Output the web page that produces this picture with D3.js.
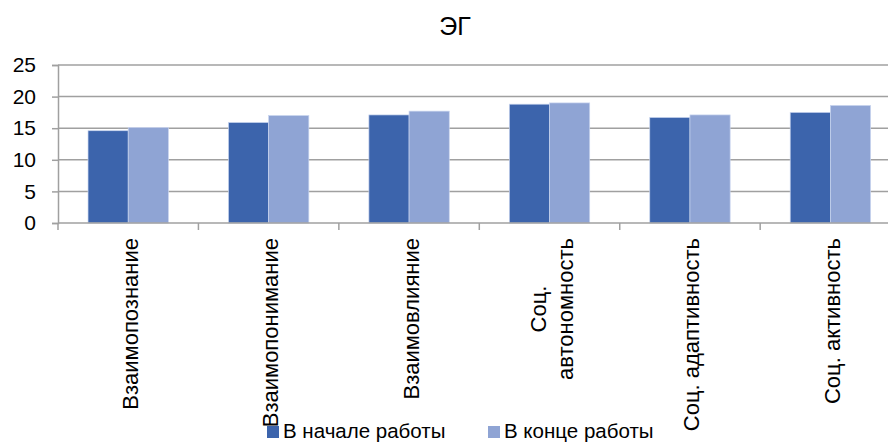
<!DOCTYPE html>
<html>
<head>
<meta charset="utf-8">
<script src="https://cdn.jsdelivr.net/npm/d3@7"></script>
<style>
  body { margin: 0; background: #fff; }
  text { font-family: "Liberation Sans", Arial, sans-serif; fill: #000; }
</style>
</head>
<body>
<svg width="888" height="442"></svg>
<script>
var categories = [
  ["Взаимопознание"],
  ["Взаимопонимание"],
  ["Взаимовлияние"],
  ["Соц.", "автономность"],
  ["Соц. адаптивность"],
  ["Соц. активность"]
];
var seriesNames = ["В начале работы", "В конце работы"];
var startValues = [14.6, 15.9, 17.1, 18.8, 16.7, 17.5];
var endValues = [15.1, 17.0, 17.7, 19.0, 17.1, 18.6];
var yTicks = [0, 5, 10, 15, 20, 25];
var colors = ["#3c64ac", "#8fa4d4"];

var svg = d3.select("svg"),
    plotLeft = 58, plotRight = 900.6, plotTop = 65, plotBottom = 223;

var keys = categories.map(function(c){ return c.join(" "); });
var rows = keys.map(function(k, i){ return {key: k, lines: categories[i], values: [startValues[i], endValues[i]]}; });

var x = d3.scaleBand()
    .domain(keys)
    .range([plotLeft, plotRight])
    .paddingInner(0.4277)
    .paddingOuter(0.2138);

var x1 = d3.scaleBand()
    .domain(d3.range(seriesNames.length))
    .range([0, x.bandwidth()]);

var y = d3.scaleLinear()
    .domain([0, 25])
    .range([plotBottom, plotTop]);

// title
svg.append("text")
    .attr("x", 455).attr("y", 35)
    .attr("text-anchor", "middle")
    .style("font-size", "25px")
    .text("ЭГ");

// gridlines
svg.append("g")
    .selectAll("line")
    .data(yTicks.filter(function(d){ return d > 0; }))
    .enter()
    .append("line")
      .attr("x1", plotLeft).attr("x2", 888)
      .attr("y1", function(d){ return y(d); })
      .attr("y2", function(d){ return y(d); })
      .attr("stroke", "#a0a0a0")
      .attr("stroke-width", 1.5);

// y axis
var yAxis = svg.append("g")
    .attr("transform", "translate(" + plotLeft + ",0)")
    .call(d3.axisLeft(y).tickValues(yTicks).tickSize(6).tickPadding(16));
yAxis.select(".domain").attr("stroke", "#a0a0a0").attr("stroke-width", 1.5);
yAxis.selectAll(".tick line").attr("stroke", "#a0a0a0").attr("stroke-width", 1.5);
yAxis.selectAll(".tick text").style("font-size", "21px").style("font-family", "Liberation Sans, Arial, sans-serif").attr("fill", "#000");

// bars
svg.append("g")
    .selectAll("g")
    .data(rows)
    .enter()
    .append("g")
      .attr("transform", function(d){ return "translate(" + x(d.key) + ",0)"; })
    .selectAll("rect")
    .data(function(d){ return d.values; })
    .enter()
    .append("rect")
      .attr("x", function(d, i){ return x1(i); })
      .attr("y", function(d){ return y(d); })
      .attr("width", x1.bandwidth())
      .attr("height", function(d){ return plotBottom - y(d); })
      .attr("fill", function(d, i){ return colors[i]; })
      .attr("stroke", "#c8d4ee")
      .attr("stroke-width", 0.7);

// x axis line + ticks between categories
var step = x.step();
svg.append("line")
    .attr("x1", plotLeft).attr("x2", 888)
    .attr("y1", plotBottom).attr("y2", plotBottom)
    .attr("stroke", "#a0a0a0").attr("stroke-width", 1.5);
svg.append("line")
    .attr("x1", plotLeft).attr("x2", plotLeft)
    .attr("y1", plotBottom).attr("y2", plotBottom + 7)
    .attr("stroke", "#a0a0a0").attr("stroke-width", 1.5);
svg.append("g")
    .selectAll("line")
    .data(rows)
    .enter()
    .append("line")
      .attr("x1", function(d){ return x(d.key) + x.bandwidth() + (step - x.bandwidth()) / 2; })
      .attr("x2", function(d){ return x(d.key) + x.bandwidth() + (step - x.bandwidth()) / 2; })
      .attr("y1", plotBottom).attr("y2", plotBottom + 7)
      .attr("stroke", "#a0a0a0").attr("stroke-width", 1.5);

// category labels, rotated, multi-line centred
var lineH = 27;
rows.forEach(function(d){
  var cx = x(d.key) + x.bandwidth() / 2;
  var g = svg.append("g")
      .attr("transform", "translate(" + cx + "," + 238 + ") rotate(-90)");
  var texts = g.selectAll("text")
    .data(d.lines)
    .enter()
    .append("text")
      .style("font-size", "22px")
      .attr("dominant-baseline", "central")
      .attr("text-anchor", "middle")
      .attr("y", function(t, i){ return (i - (d.lines.length - 1) / 2) * lineH + 2; })
      .text(function(t){ return t; });
  var maxLen = 0;
  texts.each(function(){ maxLen = Math.max(maxLen, this.getComputedTextLength()); });
  texts.attr("x", -maxLen / 2);
});

// legend
var legendX = [267, 488];
var legend = svg.append("g")
    .selectAll("g")
    .data(seriesNames)
    .enter()
    .append("g")
      .attr("transform", function(d, i){ return "translate(" + legendX[i] + ",426)"; });
legend.append("rect")
    .attr("width", 12).attr("height", 12)
    .attr("fill", function(d, i){ return colors[i]; });
legend.append("text")
    .attr("x", 16).attr("y", 12)
    .style("font-size", "20.5px")
    .text(function(d){ return d; });
</script>
</body>
</html>
